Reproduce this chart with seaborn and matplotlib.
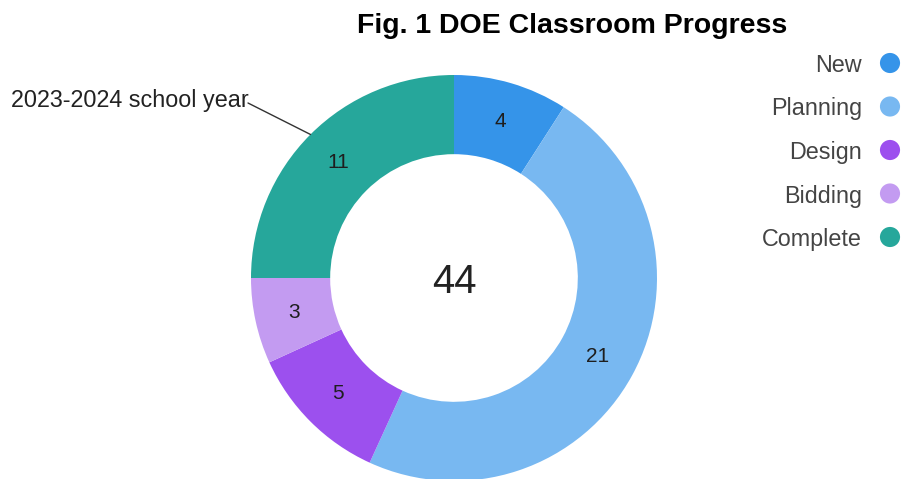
import numpy as np
import pandas as pd
import matplotlib
matplotlib.use("Agg")
import matplotlib.pyplot as plt
import seaborn as sns

# ---- data ----
categories = ["New", "Planning", "Design", "Bidding", "Complete"]
values = [4, 21, 5, 3, 11]
colors = ["#3594e9", "#78b8f1", "#9c50ee", "#c39bf1", "#26a79b"]
title = "Fig. 1 DOE Classroom Progress"
annotation_text = "2023-2024 school year"
annotated_category = "Complete"

sns.set_theme(style="white")
plt.rcParams["font.family"] = ["Liberation Sans", "DejaVu Sans"]

W, H = 902, 479
fig = plt.figure(figsize=(W / 100, H / 100), dpi=100)

# pie axes: centre (454, 278) px from top, radius 203 px
cx, cy, R = 454, 278, 203
ax = fig.add_axes([(cx - R) / W, (H - cy - R) / H, 2 * R / W, 2 * R / H])
ax.set_xlim(-1, 1)
ax.set_ylim(-1, 1)
ax.axis("off")

total = sum(values)
wedges, texts, autotexts = ax.pie(
    values,
    colors=colors,
    startangle=90,
    counterclock=False,
    radius=1.0,
    wedgeprops=dict(width=0.39, edgecolor="none", linewidth=0),
    autopct=lambda p: f"{int(round(p * total / 100))}",
    pctdistance=0.805,
    textprops=dict(fontsize=15, color="#1e1e1e"),
)
for w in wedges:
    w.set_clip_on(False)
ax.set_xlim(-1, 1)
ax.set_ylim(-1, 1)
ax.set_aspect("auto")

# centre total
ax.text(0, 0, f"{total}", ha="center", va="center_baseline", fontsize=29, color="#222222")

# annotation line to the mid-angle of the annotated wedge
idx = categories.index(annotated_category)
w = wedges[idx]
mid = np.deg2rad((w.theta1 + w.theta2) / 2)
px2d = lambda px, py: ((px - cx) / R, (cy - py) / R)
tx, ty = px2d(248, 103)
ax.plot([tx, np.cos(mid)], [ty, np.sin(mid)], color="#333333", lw=1.0, clip_on=False)
bx, by = px2d(249, 107)
ax.text(bx, by, annotation_text, ha="right", va="baseline", fontsize=16.8, color="#222222")

# title
fig.text(572 / W, (H - 33) / H, title, ha="center", va="baseline",
         fontsize=20.5, fontweight="bold", color="black")

# legend drawn with seaborn on its own axes
lax = fig.add_axes([740 / W, (H - 260) / H, 162 / W, 220 / H])
spacing = 43.5
leg_df = pd.DataFrame({"x": [0] * len(categories), "y": np.arange(len(categories)), "cat": categories})
sns.scatterplot(data=leg_df, x="x", y="y", hue="cat", palette=colors, s=210,
                linewidth=0, legend=False, ax=lax, clip_on=False)
lax.set_xlim(-150, 12)
lax.set_ylim(len(categories) - 1 + 23 / spacing, -23 / spacing)
lax.axis("off")
for i, c in enumerate(categories):
    lax.text(-28, i, c, ha="right", va="center_baseline", fontsize=16.8, color="#444444")

fig.savefig("out.png", dpi=100)
